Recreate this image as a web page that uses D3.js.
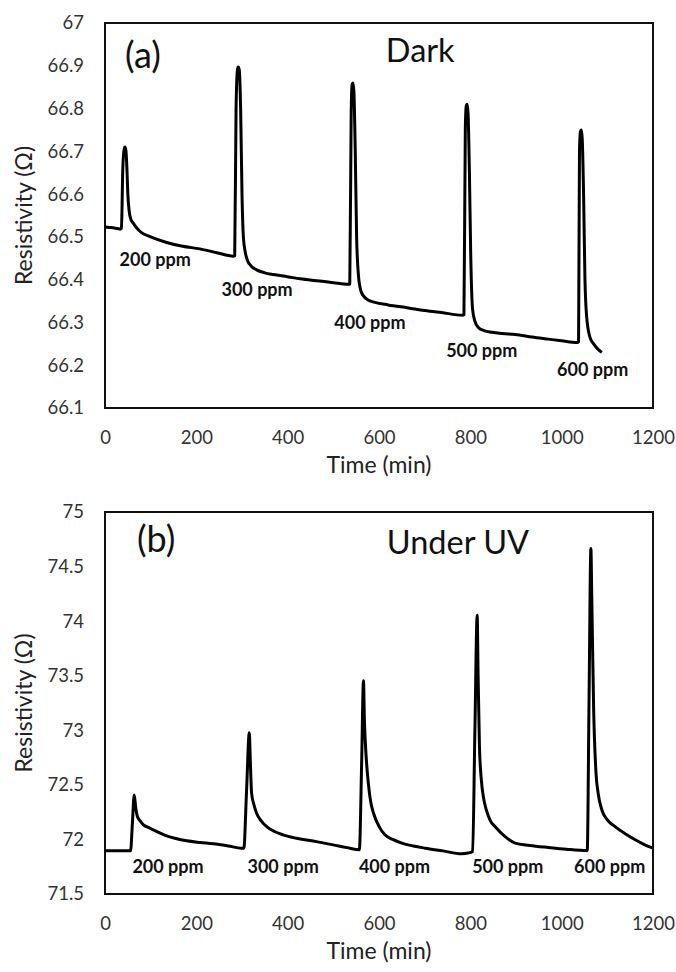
<!DOCTYPE html>
<html>
<head>
<meta charset="utf-8">
<script src="https://cdn.jsdelivr.net/npm/d3@7"></script>
<style>
  body { margin: 0; background: #fff; }
  text { font-family: Lato, "Open Sans", sans-serif; }
</style>
</head>
<body>
<div id="canvas"></div>
<script>
// panel (a) - Dark
const timeA = [0, 10, 20, 30, 33, 36, 39, 42, 44, 46, 48, 50, 53, 57, 62, 70, 80, 100, 135, 170, 208, 245, 281,
  284, 287, 290, 292, 294, 297, 300, 303, 307, 312, 320, 332, 350, 369, 400, 427, 470, 500, 533,
  536, 539, 541, 543, 545, 548, 551, 555, 560, 566, 575, 591, 620, 664, 700, 737, 783,
  786, 789, 791, 793, 795, 798, 801, 805, 810, 817, 830, 847, 870, 898, 935, 971, 1000, 1034,
  1037, 1039, 1041, 1043, 1045, 1048, 1051, 1055, 1062, 1070, 1080, 1088];
const resA = [66.523, 66.522, 66.521, 66.519, 66.518, 66.52, 66.66, 66.705, 66.71, 66.70, 66.66, 66.60, 66.56, 66.54, 66.532, 66.52, 66.51, 66.50, 66.487, 66.478, 66.472, 66.463, 66.455,
  66.456, 66.80, 66.89, 66.897, 66.89, 66.80, 66.60, 66.50, 66.465, 66.445, 66.432, 66.423, 66.416, 66.412, 66.407, 66.402, 66.397, 66.393, 66.389,
  66.39, 66.78, 66.855, 66.86, 66.84, 66.70, 66.50, 66.41, 66.375, 66.362, 66.353, 66.347, 66.341, 66.334, 66.328, 66.323, 66.317,
  66.318, 66.75, 66.805, 66.81, 66.79, 66.65, 66.45, 66.33, 66.303, 66.289, 66.281, 66.277, 66.274, 66.272, 66.266, 66.261, 66.257, 66.253,
  66.255, 66.70, 66.745, 66.75, 66.73, 66.60, 66.40, 66.31, 66.265, 66.25, 66.237, 66.23];

// panel (b) - Under UV
const timeB = [0, 20, 40, 56, 60, 64, 67, 71, 77, 84, 95, 106, 120, 135, 155, 179, 208, 237, 270, 299, 304,
  310, 316, 318, 321, 326, 332, 342, 354, 370, 390, 420, 463, 500, 530, 557,
  562, 566, 568, 572, 577, 582, 588, 600, 613, 630, 650, 675, 701, 740, 781, 795, 805,
  810, 815, 817, 820, 824, 829, 835, 844, 854, 875, 898, 930, 971, 1010, 1056,
  1060, 1064, 1066, 1070, 1075, 1080, 1088, 1100, 1117, 1140, 1161, 1180, 1200];
const resB = [71.896, 71.896, 71.896, 71.896, 72.15, 72.408, 72.30, 72.21, 72.17, 72.134, 72.11, 72.088, 72.06, 72.033, 72.008, 71.987, 71.972, 71.96, 71.94, 71.92, 71.92,
  72.45, 72.978, 72.75, 72.424, 72.32, 72.24, 72.17, 72.118, 72.075, 72.042, 72.01, 71.98, 71.95, 71.925, 71.905,
  72.7, 73.454, 73.1, 72.75, 72.5, 72.34, 72.24, 72.12, 72.042, 72.0, 71.966, 71.94, 71.92, 71.895, 71.868, 71.875, 71.89,
  73.0, 74.055, 73.5, 72.85, 72.55, 72.38, 72.27, 72.17, 72.118, 72.03, 71.966, 71.945, 71.926, 71.91, 71.898,
  73.3, 74.665, 74.2, 73.2, 72.62, 72.42, 72.27, 72.18, 72.118, 72.05, 71.997, 71.955, 71.92];

const xTicks = [0, 200, 400, 600, 800, 1000, 1200];
const yTicksA = [66.1, 66.2, 66.3, 66.4, 66.5, 66.6, 66.7, 66.8, 66.9, 67];
const yTicksB = [71.5, 72, 72.5, 73, 73.5, 74, 74.5, 75];

const ppmLabels = ["200 ppm", "300 ppm", "400 ppm", "500 ppm", "600 ppm"];
const ppmTimeA = [110, 333, 580, 825, 1068];
const ppmResA = [66.433, 66.362, 66.285, 66.220, 66.175];
const ppmTimeB = [138, 390, 634, 882, 1105];
const ppmResB = [71.694, 71.694, 71.69, 71.694, 71.694];

const width = 676;
const height = 972;

const svg = d3.select("#canvas").append("svg")
    .attr("width", width)
    .attr("height", height);

function panel(cfg) {
    const x = d3.scaleLinear().domain([0, 1200]).range([105, 653]);
    const y = d3.scaleLinear().domain(cfg.yDomain).range([cfg.bottom, cfg.top]);
    const g = svg.append("g");

    g.append("g")
        .attr("transform", `translate(0,${cfg.bottom})`)
        .call(d3.axisBottom(x).tickValues(xTicks).tickSize(0).tickPadding(22.5).tickFormat(d => d))
        .call(a => a.select(".domain").remove())
        .selectAll("text")
        .style("font-size", "18.5px")
        .style("font-family", "Lato")
        .attr("fill", "#333");

    g.append("g")
        .attr("transform", "translate(105,0)")
        .call(d3.axisLeft(y).tickValues(cfg.yTicks).tickSize(0).tickPadding(21).tickFormat(d => d))
        .call(a => a.select(".domain").remove())
        .selectAll("text")
        .style("font-size", "18.5px")
        .style("font-family", "Lato")
        .attr("fill", "#333");

    g.append("rect")
        .attr("x", 105)
        .attr("y", cfg.top)
        .attr("width", 653 - 105)
        .attr("height", cfg.bottom - cfg.top)
        .attr("fill", "none")
        .attr("stroke", "#111")
        .attr("stroke-width", 2);

    const line = d3.line()
        .x((d, i) => x(cfg.time[i]))
        .y(d => y(d))
        .curve(d3.curveMonotoneX);

    g.append("path")
        .datum(cfg.res)
        .attr("d", line)
        .attr("fill", "none")
        .attr("stroke", "#000")
        .attr("stroke-width", 3)
        .attr("stroke-linejoin", "round");

    g.selectAll(".ppm").data(ppmLabels).enter().append("text")
        .attr("class", "ppm")
        .attr("x", (d, i) => x(cfg.ppmTime[i]))
        .attr("y", (d, i) => y(cfg.ppmRes[i]))
        .attr("text-anchor", "middle")
        .style("font-size", "18px")
        .style("font-weight", "bold")
        .attr("fill", "#111")
        .text(d => d);

    g.append("text")
        .attr("x", x(cfg.tagPos[0]))
        .attr("y", y(cfg.tagPos[1]))
        .style("font-size", "36px")
        .attr("fill", "#111")
        .text(cfg.tag);

    g.append("text")
        .attr("x", x(cfg.titlePos[0]))
        .attr("y", y(cfg.titlePos[1]))
        .style("font-size", "32.5px")
        .attr("fill", "#111")
        .text(cfg.title);

    g.append("text")
        .attr("x", (105 + 653) / 2)
        .attr("y", cfg.bottom + 65)
        .attr("text-anchor", "middle")
        .style("font-size", "23px")
        .attr("fill", "#222")
        .text("Time (min)");

    g.append("text")
        .attr("transform", `translate(32,${(cfg.top + cfg.bottom) / 2}) rotate(-90)`)
        .attr("text-anchor", "middle")
        .style("font-size", "23px")
        .attr("fill", "#222")
        .text("Resistivity (Ω)");
}

panel({
    top: 23, bottom: 408, yDomain: [66.1, 67], yTicks: yTicksA,
    time: timeA, res: resA, ppmTime: ppmTimeA, ppmRes: ppmResA,
    tag: "(a)", tagPos: [44, 66.895], title: "Dark", titlePos: [615, 66.909]
});

panel({
    top: 512, bottom: 894, yDomain: [71.5, 75], yTicks: yTicksB,
    time: timeB, res: resB, ppmTime: ppmTimeB, ppmRes: ppmResB,
    tag: "(b)", tagPos: [70, 74.63], title: "Under UV", titlePos: [617, 74.613]
});
</script>
</body>
</html>
